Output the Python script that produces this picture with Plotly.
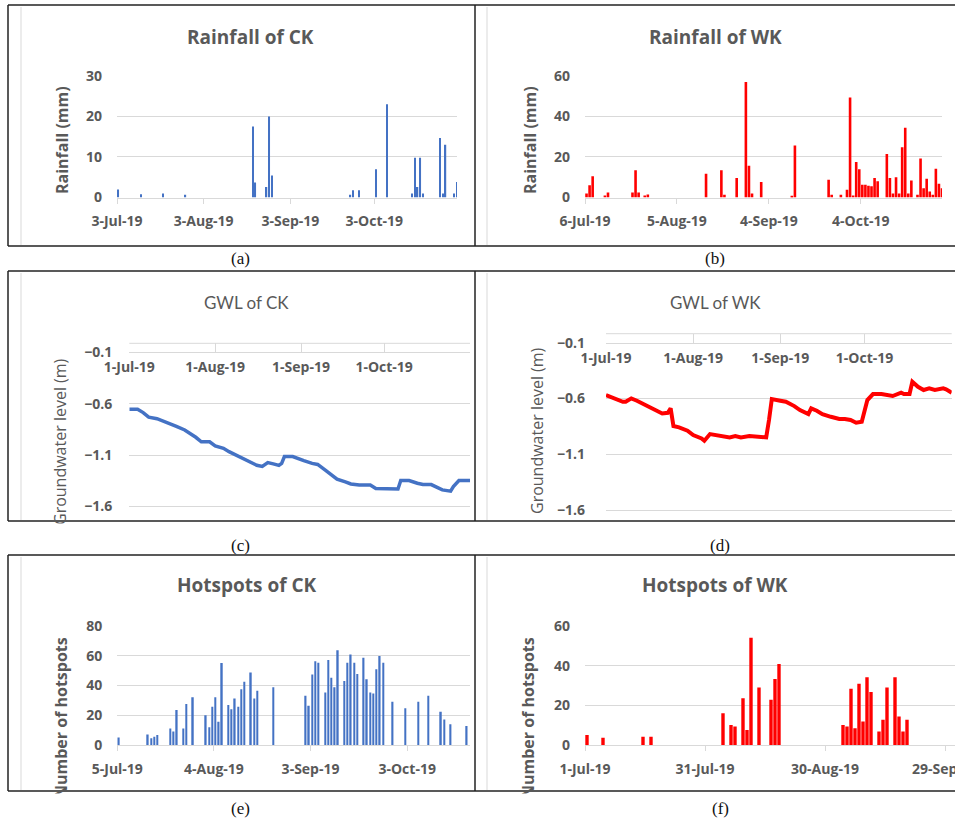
import plotly.graph_objects as go

W, H = 955, 820
def fx(x): return x / W
def fy(y): return 1 - y / H

GREY = '#595959'
GRID = '#d9d9d9'
BLUE = '#4472c4'
RED = '#ff0000'
FONT = 'Open Sans'
DAY = 86400000

# ---------------- data ----------------
ck_rain_dates = ['2019-07-03', '2019-07-11', '2019-07-19', '2019-07-27', '2019-08-20', '2019-08-21',
                 '2019-08-25', '2019-08-26', '2019-08-27', '2019-09-24', '2019-09-25', '2019-09-27',
                 '2019-10-03', '2019-10-07', '2019-10-16', '2019-10-17', '2019-10-18', '2019-10-19',
                 '2019-10-20', '2019-10-26', '2019-10-27', '2019-10-28', '2019-10-31', '2019-11-01']
ck_rain_mm = [2.0, 0.8, 1.0, 0.7, 17.5, 3.7, 2.6, 20.0, 5.4, 0.7, 1.8, 1.8,
              7.0, 23.0, 1.0, 9.8, 2.6, 9.8, 1.0, 14.7, 1.0, 13.0, 1.0, 3.8]

wk_rain_dates = ['2019-07-06', '2019-07-07', '2019-07-08', '2019-07-12', '2019-07-13', '2019-07-21',
                 '2019-07-22', '2019-07-23', '2019-07-25', '2019-07-26', '2019-08-14', '2019-08-19',
                 '2019-08-20', '2019-08-24', '2019-08-27', '2019-08-28', '2019-08-29', '2019-09-01',
                 '2019-09-11', '2019-09-12', '2019-09-23', '2019-09-24', '2019-09-27', '2019-09-29',
                 '2019-09-30', '2019-10-01', '2019-10-02', '2019-10-03', '2019-10-04', '2019-10-05',
                 '2019-10-06', '2019-10-07', '2019-10-08', '2019-10-09', '2019-10-12', '2019-10-13',
                 '2019-10-14', '2019-10-15', '2019-10-16', '2019-10-17', '2019-10-18', '2019-10-19',
                 '2019-10-20', '2019-10-22', '2019-10-23', '2019-10-24', '2019-10-25', '2019-10-26',
                 '2019-10-27', '2019-10-28', '2019-10-29', '2019-10-30']
wk_rain_mm = [2.0, 6.0, 10.5, 1.0, 2.5, 2.5, 13.5, 2.5, 1.0, 1.5, 11.7, 13.4,
              1.3, 9.6, 57.0, 15.7, 2.0, 7.6, 0.5, 25.6, 8.8, 1.3, 1.3, 3.8,
              49.3, 1.0, 17.5, 14.0, 6.3, 6.3, 5.8, 5.5, 9.6, 8.0, 21.5, 9.6,
              2.0, 10.0, 2.0, 24.8, 34.4, 2.0, 8.4, 1.3, 19.2, 4.6, 9.3, 3.0,
              1.3, 14.2, 6.8, 4.6]

ck_gwl_dates = ['2019-07-01', '2019-07-04', '2019-07-06', '2019-07-08', '2019-07-11', '2019-07-13',
                '2019-07-16', '2019-07-18', '2019-07-21', '2019-07-23', '2019-07-25', '2019-07-27',
                '2019-07-30', '2019-08-01', '2019-08-04', '2019-08-06', '2019-08-09', '2019-08-11',
                '2019-08-14', '2019-08-16', '2019-08-18', '2019-08-20', '2019-08-22', '2019-08-24',
                '2019-08-25', '2019-08-26', '2019-08-29', '2019-08-31', '2019-09-02', '2019-09-05',
                '2019-09-07', '2019-09-10', '2019-09-12', '2019-09-14', '2019-09-17', '2019-09-19',
                '2019-09-22', '2019-09-26', '2019-09-28', '2019-10-01', '2019-10-06', '2019-10-07',
                '2019-10-10', '2019-10-13', '2019-10-15', '2019-10-18', '2019-10-21', '2019-10-22',
                '2019-10-25', '2019-10-26', '2019-10-28', '2019-11-01']
ck_gwl_m = [-0.654, -0.654, -0.686, -0.730, -0.745, -0.764, -0.797, -0.820, -0.855, -0.887,
            -0.926, -0.970, -0.970, -1.010, -1.033, -1.066, -1.104, -1.137, -1.172, -1.198,
            -1.210, -1.172, -1.185, -1.200, -1.180, -1.114, -1.114, -1.130, -1.153, -1.180,
            -1.190, -1.250, -1.296, -1.334, -1.360, -1.380, -1.390, -1.390, -1.425, -1.430,
            -1.430, -1.347, -1.347, -1.373, -1.386, -1.386, -1.425, -1.438, -1.450, -1.405,
            -1.347, -1.347]

wk_gwl_dates = ['2019-07-01', '2019-07-04', '2019-07-07', '2019-07-08', '2019-07-10', '2019-07-12',
                '2019-07-14', '2019-07-17', '2019-07-19', '2019-07-21', '2019-07-23', '2019-07-24',
                '2019-07-25', '2019-07-27', '2019-07-30', '2019-08-01', '2019-08-04', '2019-08-05',
                '2019-08-07', '2019-08-09', '2019-08-12', '2019-08-14', '2019-08-16', '2019-08-18',
                '2019-08-21', '2019-08-23', '2019-08-26', '2019-08-27', '2019-08-28', '2019-08-29',
                '2019-09-01', '2019-09-03', '2019-09-06', '2019-09-08', '2019-09-11', '2019-09-12',
                '2019-09-14', '2019-09-16', '2019-09-19', '2019-09-22', '2019-09-24', '2019-09-26',
                '2019-09-28', '2019-09-30', '2019-10-02', '2019-10-04', '2019-10-07', '2019-10-11',
                '2019-10-14', '2019-10-15', '2019-10-17', '2019-10-18', '2019-10-20', '2019-10-22',
                '2019-10-24', '2019-10-26', '2019-10-29', '2019-10-30', '2019-11-01']
wk_gwl_m = [-0.569, -0.599, -0.629, -0.629, -0.599, -0.620, -0.644, -0.680, -0.710, -0.734,
            -0.728, -0.689, -0.847, -0.859, -0.889, -0.928, -0.958, -0.979, -0.919, -0.928,
            -0.943, -0.949, -0.937, -0.949, -0.937, -0.943, -0.949, -0.949, -0.793, -0.605,
            -0.620, -0.629, -0.668, -0.704, -0.740, -0.689, -0.710, -0.740, -0.764, -0.784,
            -0.784, -0.793, -0.817, -0.808, -0.614, -0.560, -0.560, -0.578, -0.548, -0.560,
            -0.560, -0.450, -0.495, -0.524, -0.509, -0.524, -0.509, -0.518, -0.548]

ck_hot_dates = ['2019-07-05', '2019-07-14', '2019-07-15', '2019-07-16', '2019-07-17', '2019-07-21',
                '2019-07-22', '2019-07-23', '2019-07-25', '2019-07-26', '2019-07-28', '2019-08-01',
                '2019-08-02', '2019-08-03', '2019-08-04', '2019-08-05', '2019-08-06', '2019-08-08',
                '2019-08-09', '2019-08-10', '2019-08-11', '2019-08-12', '2019-08-13', '2019-08-15',
                '2019-08-16', '2019-08-17', '2019-08-22', '2019-09-01', '2019-09-02', '2019-09-03',
                '2019-09-04', '2019-09-05', '2019-09-07', '2019-09-08', '2019-09-09', '2019-09-10',
                '2019-09-11', '2019-09-13', '2019-09-14', '2019-09-15', '2019-09-16', '2019-09-17',
                '2019-09-19', '2019-09-20', '2019-09-21', '2019-09-22', '2019-09-23', '2019-09-24',
                '2019-09-25', '2019-09-28', '2019-10-02', '2019-10-06', '2019-10-09', '2019-10-13',
                '2019-10-14', '2019-10-16', '2019-10-21']
ck_hot_n = [5, 7, 4.5, 5.6, 6.7, 11, 9, 23.5, 11, 27.5, 32, 20,
            12, 25.7, 32, 15.6, 55, 26.8, 24, 31.3, 25.7, 37.5, 42.5, 48.7,
            31.3, 36.4, 38.7, 33, 26.4, 47.4, 56.3, 55.2, 35.3, 57, 45.1, 38.7,
            63.7, 42.9, 55.2, 60.8, 55.2, 47.6, 58.5, 44.2, 35.3, 34.6, 50.9, 59.7,
            55.2, 29, 24.6, 29, 33, 22.3, 17.2, 13.9, 12.7]

wk_hot_dates = ['2019-07-01', '2019-07-05', '2019-07-15', '2019-07-17', '2019-08-04', '2019-08-06',
                '2019-08-07', '2019-08-09', '2019-08-10', '2019-08-11', '2019-08-13', '2019-08-16',
                '2019-08-17', '2019-08-18', '2019-09-03', '2019-09-04', '2019-09-05', '2019-09-06',
                '2019-09-07', '2019-09-08', '2019-09-09', '2019-09-10', '2019-09-12', '2019-09-13',
                '2019-09-14', '2019-09-16', '2019-09-17', '2019-09-18', '2019-09-19']
wk_hot_n = [5, 3.7, 4.2, 4.2, 16, 10.1, 9.3, 23.6, 7.6, 54, 29, 22.8,
            33.2, 40.8, 10.1, 9.3, 28.4, 8.4, 30.9, 11.8, 34.1, 26.7, 6.8, 12.7,
            29, 34.1, 14.3, 6.8, 12.7]

ticks_a = ['2019-07-03', '2019-08-03', '2019-09-03', '2019-10-03']
ticks_b = ['2019-07-06', '2019-08-05', '2019-09-04', '2019-10-04']
ticks_cd = ['2019-07-01', '2019-08-01', '2019-09-01', '2019-10-01', '2019-11-01']
ticks_cd_text = ['1-Jul-19', '1-Aug-19', '1-Sep-19', '1-Oct-19', '']
ticks_e = ['2019-07-05', '2019-08-04', '2019-09-03', '2019-10-03']
ticks_f = ['2019-07-01', '2019-07-31', '2019-08-30', '2019-09-29']

titles = ['Rainfall of CK', 'Rainfall of WK', 'GWL of CK', 'GWL of WK', 'Hotspots of CK', 'Hotspots of WK']
panel_tags = ['(a)', '(b)', '(c)', '(d)', '(e)', '(f)']
y_titles = ['Rainfall (mm)', 'Rainfall (mm)', 'Groundwater level (m)', 'Groundwater level (m)',
            'Number of hotspots', 'Number of hotspots']

# ---------------- figure ----------------
fig = go.Figure()
thin = dict(width=0.45 * DAY, xperiod=DAY, xperiodalignment='middle')
wide = dict(width=0.85 * DAY, xperiod=DAY, xperiodalignment='middle')
fig.add_trace(go.Bar(x=ck_rain_dates, y=ck_rain_mm, xaxis='x', yaxis='y', marker=dict(color=BLUE, line_width=0), **thin))
fig.add_trace(go.Bar(x=wk_rain_dates, y=wk_rain_mm, xaxis='x2', yaxis='y2', marker=dict(color=RED, line_width=0), **wide))
fig.add_trace(go.Scatter(x=ck_gwl_dates, y=ck_gwl_m, xaxis='x3', yaxis='y3', mode='lines',
                         line=dict(color=BLUE, width=3.5)))
fig.add_trace(go.Scatter(x=wk_gwl_dates, y=wk_gwl_m, xaxis='x4', yaxis='y4', mode='lines',
                         line=dict(color=RED, width=4)))
fig.add_trace(go.Bar(x=ck_hot_dates, y=ck_hot_n, xaxis='x5', yaxis='y5', marker=dict(color=BLUE, line_width=0), **thin))
fig.add_trace(go.Bar(x=wk_hot_dates, y=wk_hot_n, xaxis='x6', yaxis='y6', marker=dict(color=RED, line_width=0), **wide))

tickfont = dict(family=FONT, size=14, color=GREY, weight='bold')

def xax(x0, x1, rng, tv, anchor, tt=None, top_y=None):
    d = dict(type='date', domain=[fx(x0), fx(x1)], range=rng, anchor=anchor, tickvals=tv,
             tickformat='%-d-%b-%y', ticks='outside', ticklen=5, tickcolor=GRID, tickwidth=1,
             showline=True, linecolor=GRID, linewidth=1, showgrid=False, zeroline=False,
             tickfont=tickfont, fixedrange=True, automargin=False, ticklabelstandoff=6,
             ticklabeloverflow='allow')
    if tt is not None:
        d['ticktext'] = tt
        d['tickmode'] = 'array'
    if top_y is not None:
        # axis line sits at the top of the plot (y = -0.1), ticks rise above it, labels hang below
        d.update(anchor='free', position=fy(top_y), side='bottom', ticks='inside', ticklen=9,
                 ticklabelstandoff=2)
    return d

def yax(ytop, ybot, rng, tv, anchor, standoff):
    return dict(domain=[fy(ybot), fy(ytop)], range=rng, anchor=anchor, tickvals=tv,
                showgrid=True, gridcolor=GRID, gridwidth=1, zeroline=False, showline=False,
                ticks='', tickfont=tickfont, ticklabelstandoff=standoff, fixedrange=True,
                automargin=False)

fig.update_layout(
    width=W, height=H, autosize=False, margin=dict(l=0, r=0, t=0, b=0, pad=0, autoexpand=False),
    paper_bgcolor='white', plot_bgcolor='rgba(0,0,0,0)', showlegend=False,
    xaxis=xax(117, 457, ['2019-07-03', '2019-11-01 14:00'], ticks_a, 'y'),
    yaxis=yax(75.7, 197.5, [0, 30.05], [0, 10, 20, 30], 'x', 14),
    xaxis2=xax(585, 942, ['2019-07-06', '2019-10-30 12:00'], ticks_b, 'y2'),
    yaxis2=yax(75.7, 197.5, [0, 60.1], [0, 20, 40, 60], 'x2', 14),
    xaxis3=xax(129.3, 470, ['2019-07-01', '2019-11-01'], ticks_cd, 'y3', ticks_cd_text, top_y=352.3),
    yaxis3=yax(352.3, 521, [-1.7405, -0.0995], [-0.1, -0.6, -1.1, -1.6], 'x3', 16),
    xaxis4=xax(606, 951.7, ['2019-07-01', '2019-11-01'], ticks_cd, 'y4', ticks_cd_text, top_y=342.7),
    yaxis4=yax(342.7, 521, [-1.6986, -0.0995], [-0.1, -0.6, -1.1, -1.6], 'x4', 20),
    xaxis5=xax(117.3, 470, ['2019-07-05', '2019-10-22 12:00'], ticks_e, 'y5'),
    yaxis5=yax(625.7, 745, [0, 80.1], [0, 20, 40, 60, 80], 'x5', 14),
    xaxis6=xax(585, 955, ['2019-07-01', '2019-10-01 12:00'], ticks_f, 'y6'),
    yaxis6=yax(625.7, 745, [0, 60.1], [0, 20, 40, 60], 'x6', 14),
)

# ---------------- table borders & chart-area edges ----------------
BLACK = '#222222'
rows = [(5, 246), (271, 521), (555, 791)]
shapes = []
for (t, b) in rows:
    for (x0, y0, x1, y1) in [(8, t, 955, t), (8, b, 955, b), (8, t, 8, b), (475, t, 475, b)]:
        shapes.append(dict(type='line', xref='paper', yref='paper', x0=fx(x0), x1=fx(x1), y0=fy(y0), y1=fy(y1),
                           line=dict(color=BLACK, width=1.5)))
    for xl in (21, 487):
        shapes.append(dict(type='line', xref='paper', yref='paper', x0=fx(xl), x1=fx(xl), y0=fy(t + 2), y1=fy(b - 1),
                           line=dict(color=GRID, width=1)))
# upper rail of the top date axes in (c) and (d)
for (x0, x1, y) in [(129.3, 470, 343.3), (606, 951.7, 333.7)]:
    shapes.append(dict(type='line', xref='paper', yref='paper', x0=fx(x0), x1=fx(x1), y0=fy(y), y1=fy(y),
                       line=dict(color=GRID, width=1)))
fig.update_layout(shapes=shapes)

# ---------------- text ----------------
ann = []
title_pos = [(250, 37), (715, 37), (247, 302), (715, 302), (247, 585), (715, 585)]
for i, (t, (x, y)) in enumerate(zip(titles, title_pos)):
    gwl = i in (2, 3)
    ann.append(dict(text=t, x=fx(x), y=fy(y), xref='paper', yref='paper', showarrow=False,
                    xanchor='center', yanchor='middle',
                    font=dict(family='Lato' if gwl else FONT, size=17 if gwl else 19, color=GREY,
                              weight='normal' if gwl else 'bold')))
tag_pos = [(240, 258), (715, 258), (240, 545), (720, 545), (240, 808), (720, 808)]
for t, (x, y) in zip(panel_tags, tag_pos):
    ann.append(dict(text=t, x=fx(x), y=fy(y), xref='paper', yref='paper', showarrow=False,
                    xanchor='center', yanchor='middle',
                    font=dict(family='Liberation Serif', size=17, color='#111111')))
ytitle_pos = [(62, 140), (530, 140), (60, 442), (537, 431), (61, 718), (528, 718)]
for i, (t, (x, y)) in enumerate(zip(y_titles, ytitle_pos)):
    gwl = i in (2, 3)
    ann.append(dict(text=t, x=fx(x), y=fy(y), xref='paper', yref='paper', showarrow=False,
                    xanchor='center', yanchor='middle', textangle=-90,
                    font=dict(family=FONT, size=16, color=GREY, weight='normal' if gwl else 'bold')))
# white masks: the y titles are clipped by the table cell borders
for (x, ytop) in [(60, 522.5), (537, 522.5), (61, 792.5), (528, 792.5)]:
    ann.append(dict(text=' ', x=fx(x), y=fy(ytop), xref='paper', yref='paper', showarrow=False,
                    xanchor='center', yanchor='top', width=30, height=16, bgcolor='white', borderpad=0,
                    font=dict(size=10)))
fig.update_layout(annotations=ann)

fig.write_html('out.html', config=dict(displayModeBar=False),
               post_script="document.body.style.margin='0';document.body.style.overflow='hidden';")
